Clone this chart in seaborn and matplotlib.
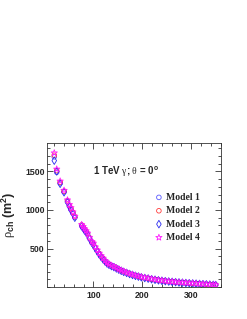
import numpy as np
import pandas as pd
import matplotlib
matplotlib.use("Agg")
import matplotlib.pyplot as plt
from matplotlib.ticker import MultipleLocator
import seaborn as sns

# ---- data ----
r = [20, 25, 32, 40, 47, 51, 54, 58, 62, 76, 79, 82, 85, 88, 92, 97,
     100, 104, 108, 112, 116, 120, 124, 128, 132, 137, 142, 147, 152, 157,
     162, 168, 174, 180, 186, 192, 198, 205, 212, 219, 226, 233, 240, 247,
     254, 261, 268, 275, 282, 289, 296, 303, 310, 317, 324, 331, 338, 345, 350]

model1 = [1690, 1490, 1350, 1235, 1110, 1050, 1010, 960, 905, 800, 770, 745, 715, 690, 635, 580,
          560, 510, 470, 430, 395, 365, 335, 310, 292, 275, 262, 245, 228, 214,
          200, 186, 172, 160, 148, 138, 129, 120, 112, 104, 96, 90, 84, 78,
          73, 69, 65, 61, 58, 54, 51, 48, 45, 42, 39, 36, 33, 30, 28]
model2 = [1710, 1510, 1360, 1245, 1120, 1060, 1020, 970, 915, 805, 780, 750, 725, 695, 640, 585,
          565, 515, 475, 435, 400, 370, 338, 313, 295, 278, 264, 247, 231, 216,
          202, 188, 174, 162, 150, 140, 131, 122, 114, 105, 98, 91, 85, 79,
          74, 70, 66, 62, 59, 55, 52, 49, 46, 43, 40, 37, 34, 31, 29]
model3 = [1640, 1500, 1340, 1230, 1100, 1045, 1000, 955, 900, 790, 765, 740, 710, 685, 630, 575,
          550, 505, 465, 425, 390, 360, 332, 306, 289, 272, 259, 242, 226, 211,
          197, 184, 170, 158, 146, 136, 127, 118, 110, 102, 95, 88, 82, 77,
          72, 68, 64, 60, 57, 53, 50, 47, 44, 41, 38, 35, 32, 29, 27]
model4 = [1740, 1530, 1375, 1255, 1130, 1070, 1030, 975, 920, 810, 785, 755, 730, 700, 645, 590,
          570, 520, 480, 440, 405, 375, 342, 316, 298, 281, 266, 250, 233, 218,
          205, 190, 176, 164, 152, 142, 133, 124, 116, 107, 99, 92, 86, 80,
          75, 71, 67, 63, 60, 56, 53, 50, 47, 44, 41, 38, 35, 32, 30]

models = ["Model 1", "Model 2", "Model 3", "Model 4"]
series = [model1, model2, model3, model4]
colors = ["#5a5aff", "#ff3b3b", "#2b2bf0", "#ff1aff"]
markers = ["o", "o", "d", "*"]
sizes = [11, 11, 15, 22]

title_text = r"1 TeV $\gamma$; $\theta$ = 0$^{\rm o}$"
ylabel = r"$\rho_{\rm ch}$ $\rm (m^{2})$"
xticks = [100, 200, 300]
yticks = [500, 1000, 1500]

# ---- plot ----
sns.set_style("ticks")
plt.rcParams["font.family"] = ["Liberation Sans", "DejaVu Sans"]
plt.rcParams["mathtext.fontset"] = "custom"
plt.rcParams["mathtext.rm"] = "Liberation Sans:bold"
plt.rcParams["mathtext.bf"] = "Liberation Sans:bold"
plt.rcParams["mathtext.it"] = "Liberation Serif"
plt.rcParams["mathtext.default"] = "it"

fig = plt.figure(figsize=(2.47, 3.19), dpi=100)
ax = fig.add_axes([0.190, 0.100, 0.703, 0.452])

for name, vals, c, m, s in zip(models, series, colors, markers, sizes):
    df = pd.DataFrame({"r": r, "rho": vals})
    sns.scatterplot(data=df, x="r", y="rho", ax=ax, marker=m, s=s,
                    facecolors="none", edgecolor=c, linewidth=0.6,
                    label=name, legend=False)

ax.set_xlim(5, 360)
ax.set_ylim(0, 1870)
ax.set_xticks(xticks)
ax.set_yticks(yticks)
ax.xaxis.set_minor_locator(MultipleLocator(20))
ax.yaxis.set_minor_locator(MultipleLocator(100))
ax.tick_params(which="both", direction="in", top=True, right=True,
               width=0.6, color="#333333")
ax.tick_params(which="major", length=4)
ax.tick_params(which="minor", length=2)
ax.tick_params(axis="y", pad=1.5, labelsize=6.3)
ax.tick_params(axis="x", pad=2.5, labelsize=6.3)
for lab in ax.get_xticklabels() + ax.get_yticklabels():
    lab.set_fontweight("bold")
for sp in ax.spines.values():
    sp.set_linewidth(0.6)
    sp.set_color("#333333")

ax.set_xlabel("")
ax.set_ylabel(ylabel, fontsize=9, labelpad=5)

ax.text(0.265, 0.806, title_text, transform=ax.transAxes, fontsize=7,
        fontweight="bold", va="center", ha="left")

leg = ax.legend(loc="upper left", bbox_to_anchor=(0.60, 0.68), frameon=False,
                prop={"family": "Liberation Serif", "weight": "bold", "size": 7},
                handlelength=0.8, handletextpad=0.3, labelspacing=0.45,
                borderaxespad=0, markerscale=1.0)

fig.savefig("out.png", dpi=100)
